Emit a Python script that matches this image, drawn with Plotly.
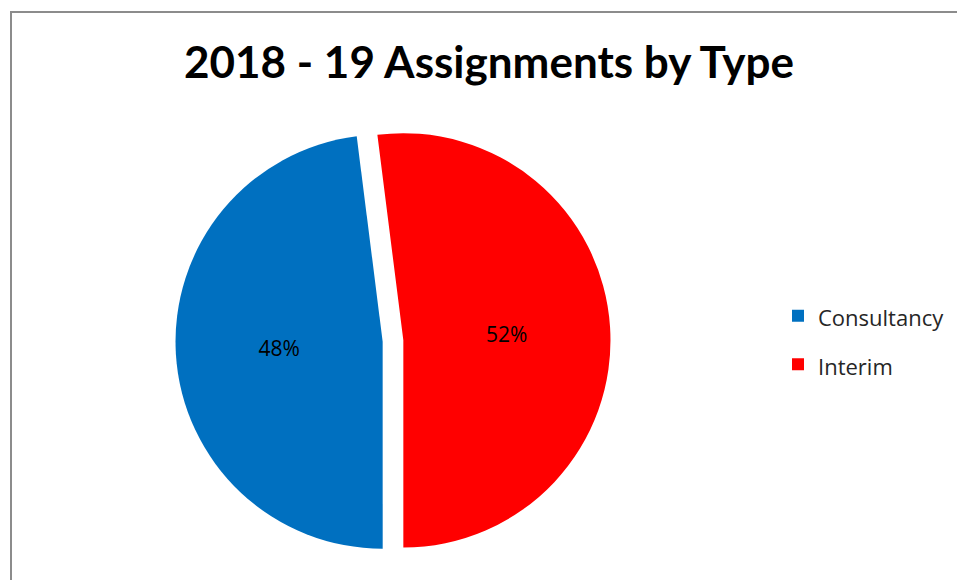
import plotly.graph_objects as go

categories = ["Consultancy", "Interim"]
values = [48, 52]
colors = ["#0070C0", "#FF0000"]
title_text = "2018 - 19 Assignments by Type"

W, H = 957, 580

legend_labels = [
    '<span style="font-size:22px;baseline-shift:3px">%s</span>' % c for c in categories
]

fig = go.Figure(
    go.Pie(
        labels=legend_labels,
        values=values,
        sort=False,
        direction="clockwise",
        rotation=180,
        pull=[0.05, 0.05],
        marker=dict(colors=colors, line=dict(width=0)),
        textinfo="percent",
        textposition="inside",
        insidetextorientation="horizontal",
        texttemplate="%{percent:.0%}",
        textfont=dict(family="Open Sans", size=21, color="#000000"),
        domain=dict(x=[175.5 / W, 610.5 / W], y=[21.5 / H, 456.5 / H]),
        hoverinfo="label+percent",
    )
)

fig.update_layout(
    width=W,
    height=H,
    margin=dict(l=0, r=0, t=0, b=0),
    paper_bgcolor="white",
    plot_bgcolor="white",
    title=dict(
        text="<b>%s</b>" % title_text,
        x=489 / W,
        xanchor="center",
        y=1 - 63 / H,
        yanchor="middle",
        font=dict(family="Lato", size=44, color="#000000"),
    ),
    showlegend=True,
    legend=dict(
        x=778 / W,
        xanchor="left",
        y=1 - 340 / H,
        yanchor="middle",
        font=dict(family="Open Sans", size=35, color="#262626"),
        bgcolor="rgba(0,0,0,0)",
    ),
    shapes=[
        dict(
            type="rect",
            xref="paper",
            yref="paper",
            x0=11 / W,
            x1=1.05,
            y0=-0.05,
            y1=1 - 12 / H,
            line=dict(color="#8C8C8C", width=2),
            fillcolor="rgba(0,0,0,0)",
        )
    ],
)

fig.write_html("out.html")
